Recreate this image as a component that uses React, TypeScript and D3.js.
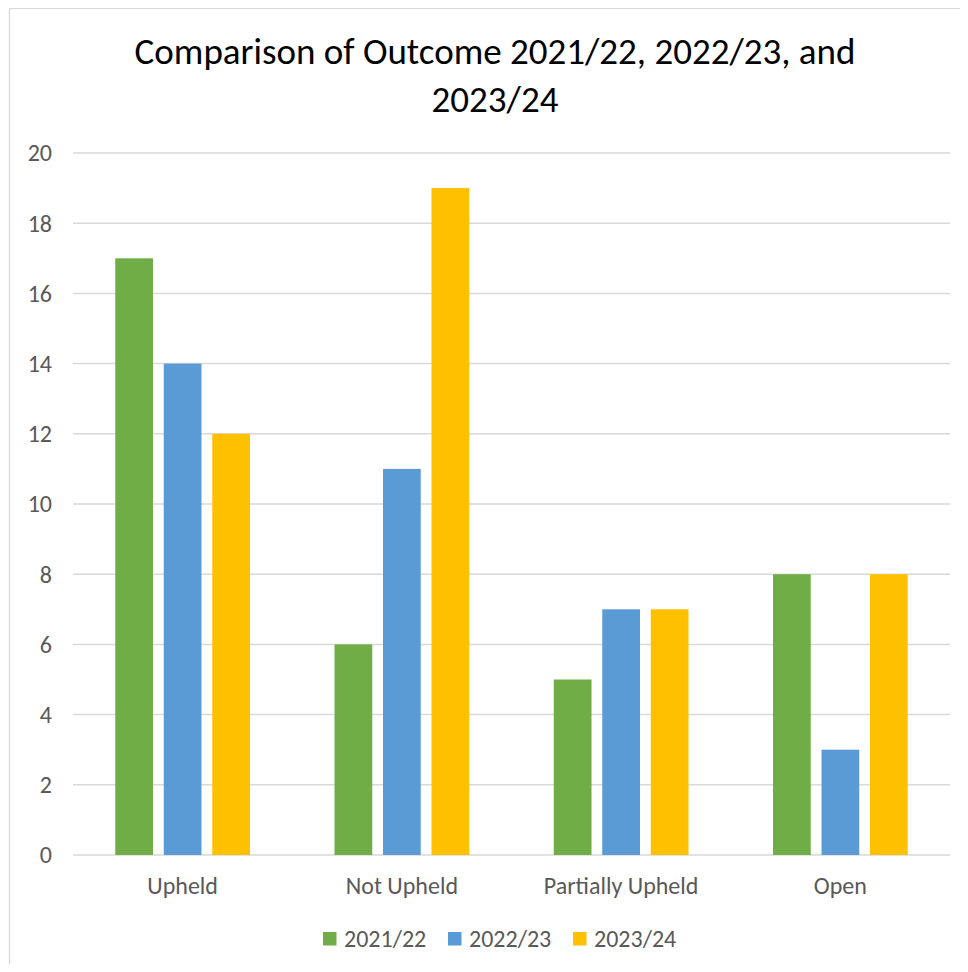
import React from "react";
import * as d3 from "d3";

const categories = ["Upheld", "Not Upheld", "Partially Upheld", "Open"];
const seriesNames = ["2021/22", "2022/23", "2023/24"];
const values2021 = [17, 6, 5, 8];
const values2022 = [14, 11, 7, 3];
const values2023 = [12, 19, 7, 8];
const seriesColors = ["#70AD47", "#5B9BD5", "#FFC000"];
const yTicks = [0, 2, 4, 6, 8, 10, 12, 14, 16, 18, 20];
const titleLines = ["Comparison of Outcome 2021/22, 2022/23, and", "2023/24"];

const W = 968;
const H = 972;
const FONT = "Carlito, 'Liberation Sans Narrow', 'DejaVu Sans Condensed', 'Open Sans', sans-serif";

export default function App() {
  const series = [values2021, values2022, values2023];
  const plotLeft = 73;
  const plotRight = 950;
  const yBottom = 855;
  const yTop = 153;

  const x0 = d3.scaleBand<string>().domain(categories).range([plotLeft, plotRight]).padding(0);
  const groupW = 145.5;
  const x1 = d3
    .scaleBand<string>()
    .domain(seriesNames)
    .range([-groupW / 2, groupW / 2])
    .paddingInner(0.222)
    .paddingOuter(0.111);
  const y = d3.scaleLinear().domain([0, 20]).range([yBottom, yTop]);

  const legendX = [323, 448, 573];

  return (
    <div style={{ margin: "-8px" }}>
      <svg width={W} height={H} style={{ display: "block", background: "#fff" }} fontFamily={FONT}>
        <rect x={9.5} y={8.5} width={980} height={980} fill="#fff" stroke="#D9D9D9" strokeWidth={1.3} />
        {titleLines.map((t, i) => (
          <text key={i} x={495} y={64 + i * 48} textAnchor="middle" fontSize={37} fill="#000">
            {t}
          </text>
        ))}
        {yTicks.map((t) => (
          <g key={t}>
            <line x1={plotLeft} x2={plotRight} y1={y(t)} y2={y(t)} stroke="#D9D9D9" strokeWidth={1.5} />
            <text x={52} y={y(t)} dy="0.35em" textAnchor="end" fontSize={24} fill="#595959">
              {t}
            </text>
          </g>
        ))}
        {categories.map((c, ci) => (
          <g key={c} transform={`translate(${(x0(c) as number) + x0.bandwidth() / 2},0)`}>
            {series.map((vals, si) => (
              <rect
                key={si}
                x={x1(seriesNames[si]) as number}
                width={x1.bandwidth()}
                y={y(vals[ci])}
                height={y(0) - y(vals[ci])}
                fill={seriesColors[si]}
              />
            ))}
            <text x={0} y={886} dy="0.35em" textAnchor="middle" fontSize={24} fill="#595959">
              {c}
            </text>
          </g>
        ))}
        {seriesNames.map((s, i) => (
          <g key={s}>
            <rect x={legendX[i]} y={932} width={13.5} height={13.5} fill={seriesColors[i]} />
            <text x={legendX[i] + 21} y={939} dy="0.35em" fontSize={24} fill="#595959">
              {s}
            </text>
          </g>
        ))}
      </svg>
    </div>
  );
}
